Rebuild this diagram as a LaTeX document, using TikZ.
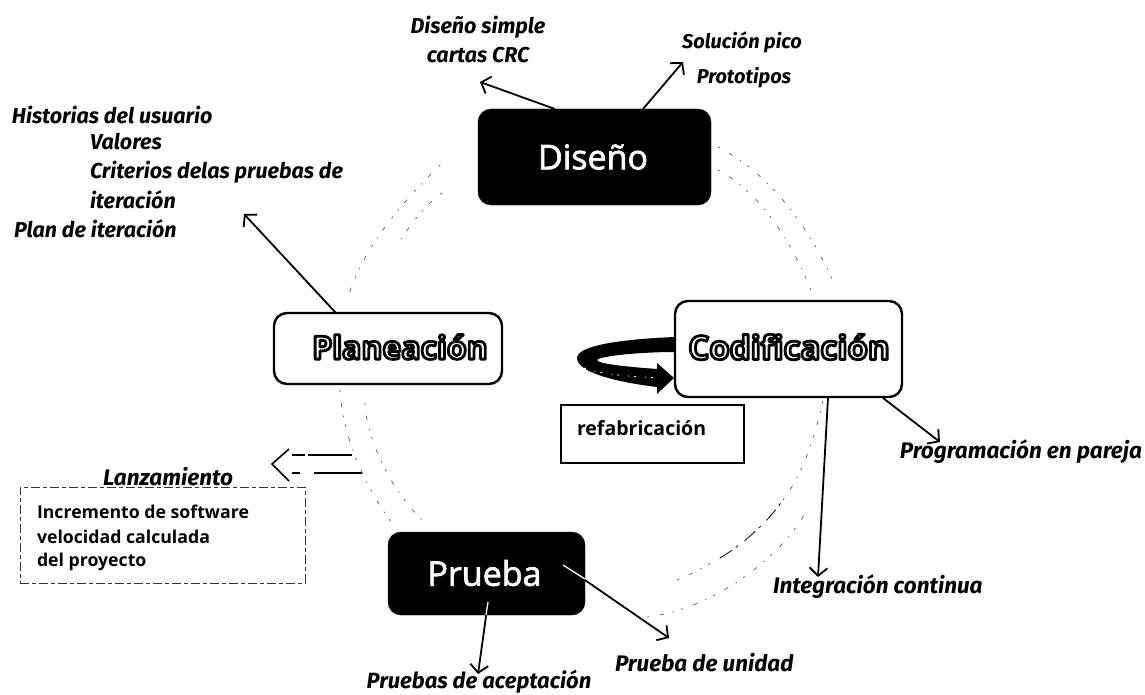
\documentclass[tikz,border=0pt]{standalone}
\usepackage{fontspec}
\setmainfont{Fira Sans}
\newfontfamily\boxfont{Open Sans}
\usetikzlibrary{arrows.meta,calc}
\newcommand{\outlined}[1]{\textcolor{white}{\special{pdf:code q 2 Tr 2.8 w 1 j 0 0 0 RG}#1\special{pdf:code Q}}}
\newcommand{\heavywhite}[1]{\textcolor{white}{\special{pdf:code q 2 Tr 0.7 w 1 1 1 RG}#1\special{pdf:code Q}}}
\tikzset{
  blackbox/.style={draw=black,fill=black,rounded corners=13pt,text=white,inner sep=0pt,outer sep=0pt},
  whitebox/.style={draw=black,fill=white,line width=2.4pt,rounded corners=13pt,inner sep=0pt,outer sep=0pt},
  plainbox/.style={draw=black,fill=white,inner sep=0pt,outer sep=0pt},
  title/.style={inner sep=0pt,outer sep=0pt,font=\boxfont\fontsize{34}{38}\selectfont},
  outlinetitle/.style={inner sep=0pt,outer sep=0pt,font=\boxfont\bfseries\fontsize{32}{36}\selectfont},
  note/.style={inner sep=0pt,outer sep=0pt,font=\bfseries\itshape\fontsize{21.5}{25}\selectfont},
  widenote/.style={inner sep=0pt,outer sep=0pt,font=\bfseries\itshape\fontsize{22.5}{26}\selectfont},
  smallnote/.style={inner sep=0pt,outer sep=0pt,font=\bfseries\itshape\fontsize{20}{24}\selectfont},
  boxnote/.style={inner sep=0pt,outer sep=0pt,font=\boxfont\bfseries\fontsize{17.7}{21}\selectfont},
  link/.style={draw=black,line width=1.8pt,-{Straight Barb[length=8pt,width=18pt,line width=1.8pt]}},
  ring/.style={draw=black!65,line width=0.7pt,dash pattern=on 2pt off 11pt on 4pt off 9pt on 1pt off 8pt,line cap=round},
  ringdark/.style={draw=black,line width=0.8pt,dash pattern=on 14pt off 5pt on 3pt off 8pt},
}
\begin{document}
\begin{tikzpicture}[x=1pt,y=-1pt]
\useasboundingbox (0,0) rectangle (1145,695);
% ring
\draw[ring] (718,147) .. controls (760,168) and (805,215) .. (836,288);
\draw[ring] (718,170) .. controls (748,185) and (785,225) .. (811,290);
\draw[ring] (440,165) .. controls (400,205) and (365,245) .. (348,297);
\draw[ring] (442,193) .. controls (425,205) and (410,225) .. (400,241);
\draw[ring] (340,390) .. controls (342,430) and (360,480) .. (392,523);
\draw[ring] (365,403) .. controls (367,440) and (390,490) .. (425,523);
\draw[ring] (677,580) .. controls (690,575) and (705,566) .. (720,558);
\draw[ringdark] (720,558) .. controls (742,545) and (768,522) .. (783,500);
\draw[ring] (783,500) .. controls (800,478) and (815,440) .. (823,400);
\draw[ring] (647,617) .. controls (710,610) and (780,560) .. (807,510);
% boxes
\node[blackbox,minimum width=233pt,minimum height=96pt] (dis) at (594.5,157) {};
\node[title] (dist) at (593,157) {\heavywhite{Diseño}};
\node[blackbox,minimum width=197pt,minimum height=83pt] (pru) at (486.5,573.5) {};
\node[title] (prut) at (484.5,573) {\heavywhite{Prueba}};
\node[whitebox,minimum width=228pt,minimum height=71pt] (pla) at (388,348.5) {};
\node[outlinetitle] (plat) at (400,347) {\outlined{Planeación}};
\node[whitebox,minimum width=227pt,minimum height=96pt] (cod) at (788.5,349) {};
\node[outlinetitle,font=\boxfont\bfseries\fontsize{33}{36}\selectfont] (codt) at (789,347) {\outlined{Codificación}};
\node[plainbox,line width=1.8pt,minimum width=183pt,minimum height=58pt] (ref) at (652.5,434) {};
\node[boxnote,anchor=west,font=\boxfont\bfseries\fontsize{19.5}{22}\selectfont] (reft) at (577,428) {refabricación};
\node[plainbox,draw=black!80,line width=0.9pt,dash pattern=on 9pt off 3pt on 4pt off 3pt,minimum width=285pt,minimum height=96pt] (inc) at (162.5,535) {};
% free ends
\coordinate (e1) at (480,82);
\coordinate (e2) at (683,62);
\coordinate (e3) at (244,214);
\coordinate (e4) at (940,442);
\coordinate (e5) at (818,577);
\coordinate (e6) at (669,638);
\coordinate (e7) at (478,674);
% connectors
\draw[link] (555,109) -- (e1);
\draw[link] (643,109) -- (e2);
\draw[link] (336,313) -- (e3);
\draw[link] (883,398) -- (e4);
\draw[link] (828,398) -- (e5);
\draw[link] (563,565) -- (e6);
\draw[link] (488,602) -- (e7);
\draw[white,line width=1.3pt] (563,565) -- (585,579);
\draw[white,line width=1.3pt] (488,602) -- (486,615);
% curved arrow
\fill[black] (675,337) .. controls (625,339) and (577,345) .. (577,358)
  .. controls (577,372) and (615,382) .. (657,387) -- (657,394) -- (674,378) -- (657,363) -- (657,369)
  .. controls (630,367) and (597,364) .. (597,360) .. controls (600,356) and (640,352) .. (675,352) -- cycle;
\draw[white,line width=0.8pt,dash pattern=on 2pt off 9pt on 1pt off 5pt] (584,368) .. controls (600,374) and (630,377) .. (662,378);
% Lanzamiento arrow
\coordinate (ltip) at (272,464);
\draw[black,line width=1.6pt,line join=miter] (289,449) -- (ltip) -- (289,481);
\draw[black,line width=1.2pt,dash pattern=on 44pt off 3pt on 13pt off 3pt] (352,455) -- (291,455);
\draw[black,line width=1.2pt,dash pattern=on 48pt off 14pt on 8pt off 3pt] (362,473) -- (292,473);
% texts
\node[note] (t1) at (478,27) {Diseño simple};
\node[note] (t2) at (478,55) {cartas CRC};
\node[smallnote] (t3) at (742,42) {Solución pico};
\node[smallnote] (t4) at (744,78) {Prototipos};
\node[note,anchor=west] (t5) at (12,115) {Historias del usuario};
\node[note,anchor=west] (t6) at (90,142) {Valores};
\node[note,anchor=west] (t7) at (90,172) {Criterios delas pruebas de};
\node[note,anchor=west] (t8) at (90,200) {iteración};
\node[note,anchor=west] (t9) at (14,229) {Plan de iteración};
\node[widenote,fill=white,inner xsep=3pt] (t10) at (168,477) {Lanzamiento};
\node[boxnote,anchor=west] (t11) at (37,512) {Incremento de software};
\node[boxnote,anchor=west] (t12) at (37,537) {velocidad calculada};
\node[boxnote,anchor=west] (t13) at (37,562) {del proyecto};
\node[widenote,anchor=east] (t14) at (1142,452) {Programación en pareja};
\node[widenote,anchor=west] (t15) at (773,587) {Integración continua};
\node[widenote,anchor=west] (t16) at (615,663) {Prueba de unidad};
\node[widenote,font=\bfseries\itshape\fontsize{22}{26}\selectfont] (t17) at (479,682) {Pruebas de aceptación};
\end{tikzpicture}
\end{document}
